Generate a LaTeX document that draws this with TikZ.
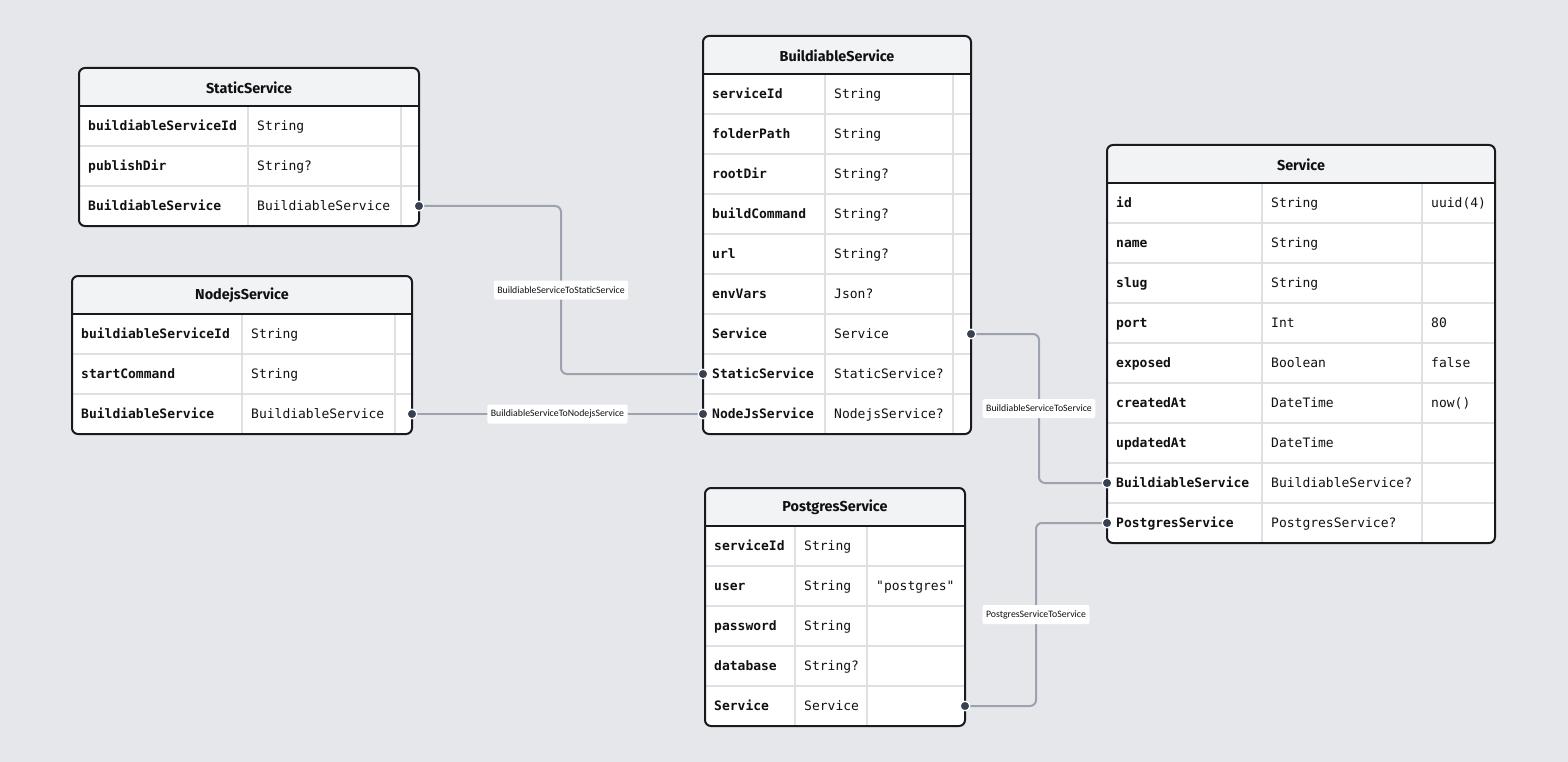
\documentclass[tikz,border=0pt]{standalone}
\usepackage{fontspec}
\usetikzlibrary{calc}
\newfontfamily\ermono{DejaVu Sans Mono}
\newfontfamily\ertitlefont{Fira Sans}
\newfontfamily\erlabelfont{Carlito}

\definecolor{canvas}{RGB}{229,231,235}
\definecolor{headfill}{RGB}{242,243,245}
\definecolor{gridc}{RGB}{222,224,228}
\definecolor{framec}{RGB}{24,26,32}
\definecolor{relc}{RGB}{156,163,175}
\definecolor{dotc}{RGB}{55,65,81}
\definecolor{inkc}{RGB}{17,17,20}

\tikzset{
  gridline/.style={draw=gridc, line width=2pt},
  frame/.style={draw=framec, line width=2pt},
  titletext/.style={font=\ertitlefont\bfseries\fontsize{14.4}{17}\selectfont, text=inkc, inner sep=0pt},
  fieldtext/.style={anchor=base west, font=\ermono\bfseries\fontsize{13}{15}\selectfont, text=inkc, inner sep=0pt},
  typetext/.style={anchor=base west, font=\ermono\fontsize{13}{15}\selectfont, text=inkc, inner sep=0pt},
  rel/.style={draw=relc, line width=2pt, rounded corners=6pt},
  rellabel/.style={fill=white, rounded corners=2pt, inner xsep=3.5pt, inner ysep=0pt,
    minimum height=19pt, font=\erlabelfont\fontsize{9.8}{11}\selectfont, text=inkc},
  enddot/.style={fill=dotc, draw=white, line width=1.2pt},
}

% #1 id, #2 left, #3 top, #4 right, #5 first column rule, #6 second column rule,
% #7 number of rows, #8 model name, #9 rows as field/type/default
\newcommand\erbox[9]{%
  \pgfmathsetmacro\erbot{#3+38+40*#7}%
  \pgfmathsetmacro\erhead{#3+38}%
  \begin{scope}
    \clip[rounded corners=6pt] (#2,#3) rectangle (#4,\erbot);
    \fill[white] (#2,#3) rectangle (#4,\erbot);
    \fill[headfill] (#2,#3) rectangle (#4,\erhead);
    \foreach \k in {1,...,#7} {
      \draw[gridline] (#2,{\erhead+40*\k}) -- (#4,{\erhead+40*\k});
    }
    \draw[gridline] (#5,\erhead) -- (#5,\erbot);
    \draw[gridline] (#6,\erhead) -- (#6,\erbot);
  \end{scope}
  \draw[frame, rounded corners=6pt] (#2,#3) rectangle (#4,\erbot);
  \draw[frame] (#2,\erhead) -- (#4,\erhead);
  \node[titletext] (#1-title) at ({(#2+#4)/2},{#3+19.5}) {#8};
  \foreach \f/\t/\d [count=\i] in {#9} {
    \pgfmathsetmacro\ery{#3+38+40*\i-20}
    \pgfmathsetmacro\erbase{\ery+4.6}
    \node[fieldtext] (#1-\i-f) at ({#2+9},\erbase) {\f};
    \node[typetext] (#1-\i-t) at ({#5+9},\erbase) {\t};
    \node[typetext] (#1-\i-d) at ({#6+9},\erbase) {\d};
    \coordinate (#1-\i-l) at (#2,\ery);
    \coordinate (#1-\i-r) at (#4,\ery);
  }
}

\begin{document}
\begin{tikzpicture}[x=1pt,y=-1pt]
  \fill[canvas] (0,0) rectangle (1568,762);
  \useasboundingbox (0,0) rectangle (1568,762);

  \erbox{static}{79}{68}{419}{248}{401}{3}{StaticService}{
    buildiableServiceId/String/{},
    publishDir/String?/{},
    BuildiableService/BuildiableService/{}}

  \erbox{nodejs}{72}{276}{412}{242}{395}{3}{NodejsService}{
    buildiableServiceId/String/{},
    startCommand/String/{},
    BuildiableService/BuildiableService/{}}

  \erbox{build}{703}{36}{971}{825}{953}{9}{BuildiableService}{
    serviceId/String/{},
    folderPath/String/{},
    rootDir/String?/{},
    buildCommand/String?/{},
    url/String?/{},
    envVars/Json?/{},
    Service/Service/{},
    StaticService/StaticService?/{},
    NodeJsService/NodejsService?/{}}

  \erbox{service}{1107}{145}{1495}{1262}{1422}{9}{Service}{
    id/String/uuid(4),
    name/String/{},
    slug/String/{},
    port/Int/80,
    exposed/Boolean/false,
    createdAt/DateTime/now(),
    updatedAt/DateTime/{},
    BuildiableService/BuildiableService?/{},
    PostgresService/PostgresService?/{}}

  \erbox{postgres}{705}{488}{965}{795}{867}{5}{PostgresService}{
    serviceId/String/{},
    user/String/"postgres",
    password/String/{},
    database/String?/{},
    Service/Service/{}}

  % relations
  \draw[rel] (static-3-r) -| ($(static-3-r)!.5!(build-8-l)$) |- (build-8-l);
  \draw[rel] (nodejs-3-r) -- (build-9-l);
  \draw[rel] (build-7-r) -| ($(build-7-r)!.5!(service-8-l)$) |- (service-8-l);
  \draw[rel] (postgres-5-r) -| ($(postgres-5-r)!.5!(service-9-l)$) |- (service-9-l);

  \node[rellabel] (lbl-static) at ($(static-3-r)!.5!(build-8-l)$) {BuildiableServiceToStaticService};
  \node[rellabel] (lbl-nodejs) at ($(nodejs-3-r)!.5!(build-9-l)$) {BuildiableServiceToNodejsService};
  \node[rellabel] (lbl-service) at ($(build-7-r)!.5!(service-8-l)$) {BuildiableServiceToService};
  \node[rellabel] (lbl-postgres) at ($(postgres-5-r)!.5!(service-9-l)$) {PostgresServiceToService};

  \foreach \p in {static-3-r, build-8-l, nodejs-3-r, build-9-l, build-7-r, service-8-l, postgres-5-r, service-9-l}
    \filldraw[enddot] (\p) circle (4.8pt);
\end{tikzpicture}
\end{document}
